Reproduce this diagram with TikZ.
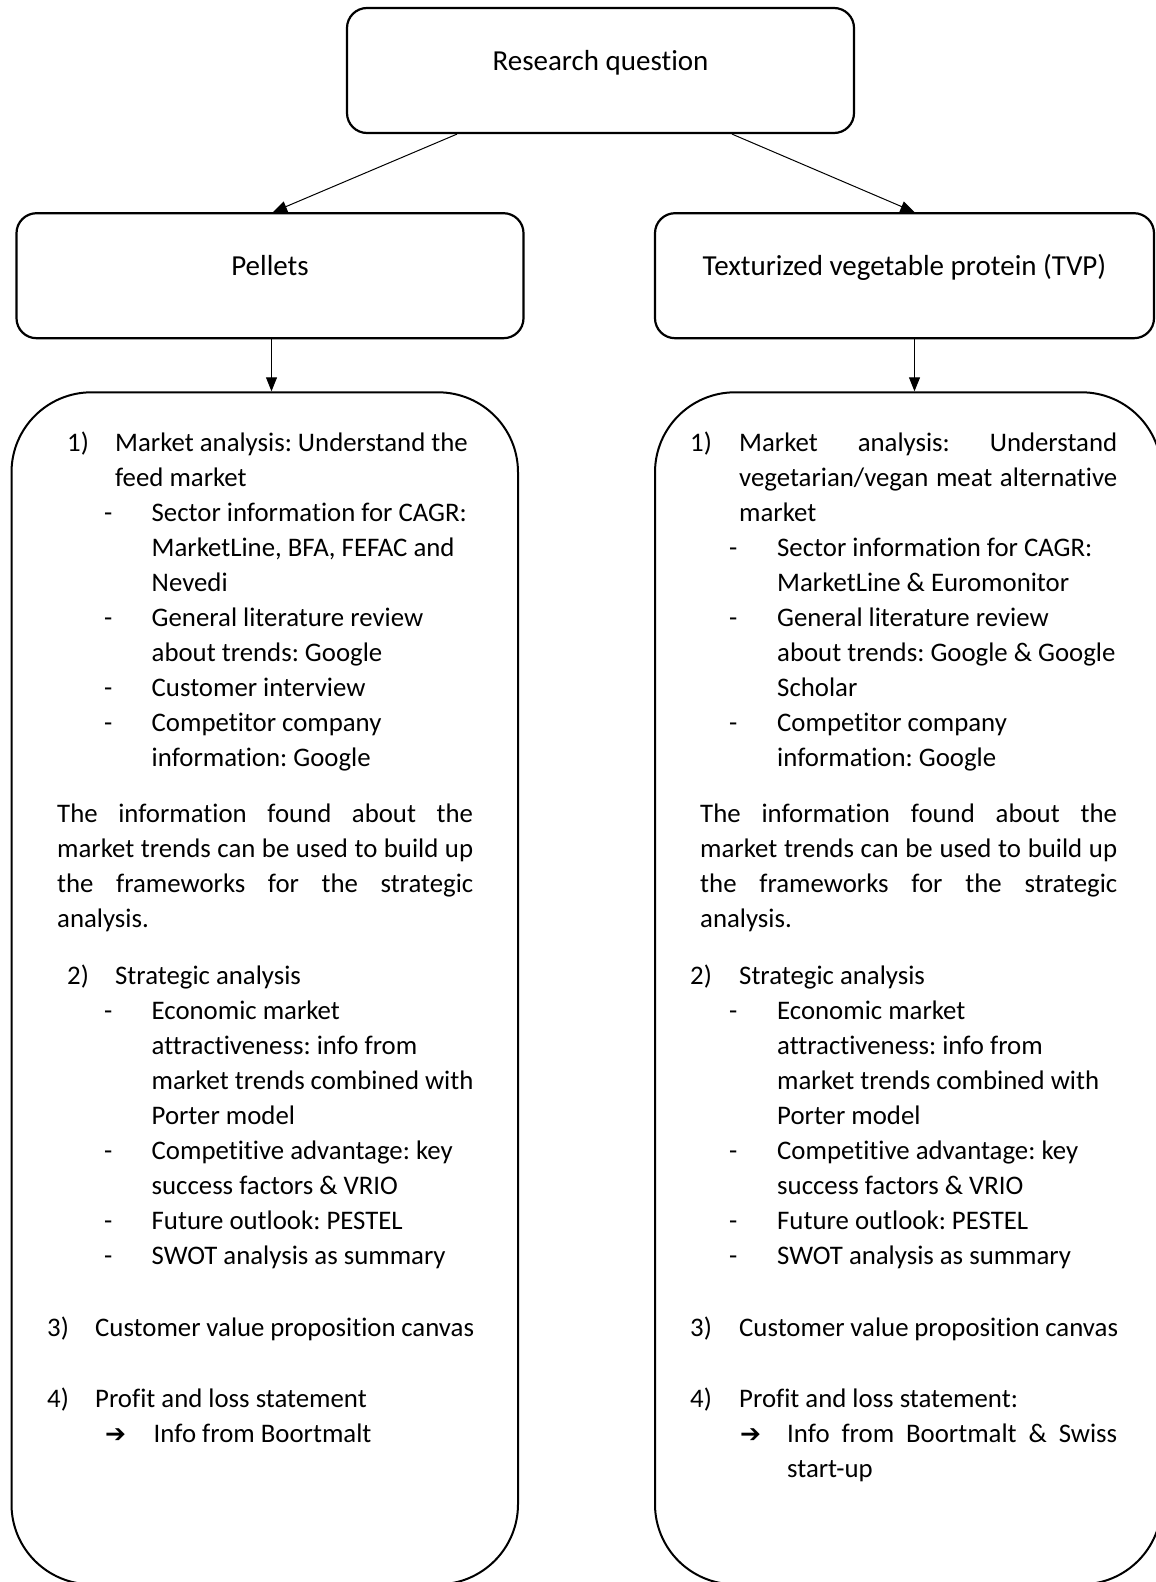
\documentclass[tikz,border=0pt]{standalone}
\usepackage{fontspec}
\setmainfont{Carlito}[Ligatures=NoCommon]
\newfontfamily\arrowfont{DejaVu Sans}
\usetikzlibrary{positioning, arrows.meta}

% list lines: label position, text position, label
\newcommand{\firstline}[3]{\leftskip=#2\relax\rightskip=0pt minus 6pt\relax
  \spaceskip=0pt\xspaceskip=0pt\frenchspacing
  \hspace*{\dimexpr#1-#2\relax}\makebox[\dimexpr#2-#1\relax][l]{#3}\ignorespaces}
\newcommand{\numline}[3]{\par\noindent\firstline{#1}{#2}{#3}}
\newcommand{\plainpar}{\par\leftskip=10pt\rightskip=0pt\spaceskip=0pt\xspaceskip=0pt\relax\noindent}
\newcommand{\arrowsym}{{\fontsize{25pt}{35pt}\arrowfont ➔}}

\begin{document}
\begin{tikzpicture}[
        x=1pt, y=-1pt,
        node distance=78pt,
        headbox/.style={draw, line width=2.2pt, rounded corners=20pt, minimum width=507pt, minimum height=125pt, text height=0pt, text depth=0pt, font=\fontsize{29pt}{35pt}\selectfont},
        panel/.style={draw, line width=2pt, rounded corners=80pt, minimum width=506.5pt, minimum height=1192pt},
        panetext/.style={anchor=base west, inner sep=0pt, text width=426pt, font=\fontsize{26.8pt}{35pt}\selectfont},
        link/.style={-{Triangle[length=14pt, width=11pt]}, line width=1pt}
    ]

    % Frame
    \path[use as bounding box, clip] (0,0) rectangle (1156,1582);

    % Question and products
    \node[headbox] (question) at (600.5,70.5) {Research question};
    \node[headbox, below=of question, xshift=-330.5pt] (pellets) {Pellets};
    \node[headbox, below=of question, xshift=304pt, minimum width=499pt] (tvp) {Texturized vegetable protein (TVP)};

    % Plans
    \node[panel, below=52pt of pellets, xshift=-5.25pt] (pelletplan) {};
    \node[panel, below=52pt of tvp, xshift=3.75pt] (tvpplan) {};

    \node[panetext] (pellettext) at (47,451) {%
        \firstline{20pt}{68pt}{1)}Market analysis: Understand the\\ feed market
        \numline{57pt}{104.5pt}{-}Sector information for CAGR:\\ MarketLine, BFA, FEFAC and\\ Nevedi
        \numline{57pt}{104.5pt}{-}General literature review\\ about trends: Google
        \numline{57pt}{104.5pt}{-}Customer interview
        \numline{57pt}{104.5pt}{-}Competitor company\\ information: Google
        \par\vspace{21.5pt}
        \plainpar The information found about the\linebreak market trends can be used to build up\linebreak the frameworks for the strategic\linebreak analysis.
        \par\vspace{21.5pt}
        \numline{20pt}{68pt}{2)}Strategic analysis
        \numline{57pt}{104.5pt}{-}Economic market\\ attractiveness: info from\\ market trends combined with\\ Porter model
        \numline{57pt}{104.5pt}{-}Competitive advantage: key\\ success factors \& VRIO
        \numline{57pt}{104.5pt}{-}Future outlook: PESTEL
        \numline{57pt}{104.5pt}{-}SWOT analysis as summary
        \par\vspace{37.5pt}
        \numline{0pt}{48pt}{3)}Customer value proposition canvas
        \par\vspace{35.5pt}
        \numline{0pt}{48pt}{4)}Profit and loss statement
        \numline{58pt}{106.5pt}{\arrowsym}Info from Boortmalt\par};

    \node[panetext, text width=427pt] (tvptext) at (690,451) {%
        \firstline{0pt}{49pt}{1)}Market analysis: Understand\linebreak vegetarian/vegan meat alternative\linebreak market
        \numline{39pt}{87pt}{-}Sector information for CAGR:\\ MarketLine \& Euromonitor
        \numline{39pt}{87pt}{-}General literature review\\ about trends: Google \& Google\\ Scholar
        \numline{39pt}{87pt}{-}Competitor company\\ information: Google
        \par\vspace{21.5pt}
        \plainpar The information found about the\linebreak market trends can be used to build up\linebreak the frameworks for the strategic\linebreak analysis.
        \par\vspace{21.5pt}
        \numline{0pt}{49pt}{2)}Strategic analysis
        \numline{39pt}{87pt}{-}Economic market\\ attractiveness: info from\\ market trends combined with\\ Porter model
        \numline{39pt}{87pt}{-}Competitive advantage: key\\ success factors \& VRIO
        \numline{39pt}{87pt}{-}Future outlook: PESTEL
        \numline{39pt}{87pt}{-}SWOT analysis as summary
        \par\vspace{37.5pt}
        \numline{0pt}{49pt}{3)}Customer value proposition canvas
        \par\vspace{35.5pt}
        \numline{0pt}{49pt}{4)}Profit and loss statement:
        \numline{50pt}{97pt}{\arrowsym}Info from Boortmalt \& Swiss\linebreak start-up\par};

    % Arrows
    \draw[link] ([xshift=-143.5pt]question.south) -- ([xshift=3pt]pellets.north);
    \draw[link] ([xshift=131.5pt]question.south) -- ([xshift=10pt]tvp.north);
    \draw[link] ([xshift=1.5pt]pellets.south) -- ([xshift=1.5pt]pellets.south |- pelletplan.north);
    \draw[link] ([xshift=10pt]tvp.south) -- ([xshift=10pt]tvp.south |- tvpplan.north);

\end{tikzpicture}
\end{document}
